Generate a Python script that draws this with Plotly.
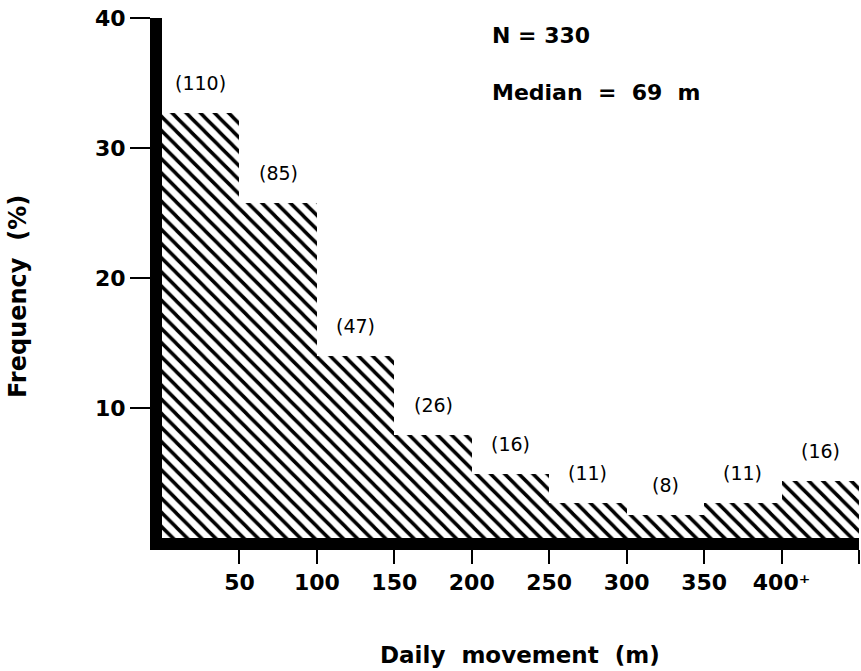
import plotly.graph_objects as go

# Data
bin_starts = [0, 50, 100, 150, 200, 250, 300, 350, 400]
bin_width = 50
frequency_pct = [32.7, 25.8, 14.0, 7.9, 4.9, 2.7, 1.8, 2.7, 4.4]
counts = [110, 85, 47, 26, 16, 11, 8, 11, 16]
x_tick_vals = [50, 100, 150, 200, 250, 300, 350, 400]
x_tick_text = ["50", "100", "150", "200", "250", "300", "350", "400\u207a"]
x_end_tick = [450]
y_tick_vals = [10, 20, 30, 40]
y_tick_text = ["10", "20", "30", "40"]
n_total = 330
median_m = 69

FONT = "DejaVu Sans"
L, R, T, B = 162, 2, 18, 133
W, H = 861, 671
PW, PH = W - L - R, H - T - B


def px(xp):
    return (xp - L) / PW


def py(yp):
    return (H - B - yp) / PH


fig = go.Figure()
fig.add_trace(go.Bar(
    x=bin_starts,
    y=frequency_pct,
    width=bin_width,
    offset=0,
    marker=dict(
        color="white",
        line=dict(width=0),
        pattern=dict(shape="\\", fgcolor="black", bgcolor="white",
                     fgopacity=1, size=10, solidity=0.35, fillmode="replace"),
    ),
    hoverinfo="skip",
    showlegend=False,
))

# count labels above bars
for s, f, c in zip(bin_starts, frequency_pct, counts):
    fig.add_annotation(
        x=s + bin_width / 2, y=f, xref="x", yref="y",
        text=f"({c})", showarrow=False, yanchor="middle", yshift=30,
        font=dict(family=FONT, size=19, color="black"),
    )

fig.add_annotation(
    x=px(490), y=py(35), xref="paper", yref="paper",
    text=f"N\u00a0=\u00a0{n_total}", showarrow=False, xanchor="left", yanchor="middle",
    font=dict(family=FONT, size=22, color="black", weight="bold"),
)
fig.add_annotation(
    x=px(490), y=py(92), xref="paper", yref="paper",
    text=f"Median\u00a0\u00a0=\u00a0\u00a0{median_m}\u00a0\u00a0m",
    showarrow=False, xanchor="left", yanchor="middle",
    font=dict(family=FONT, size=22, color="black", weight="bold"),
)
# axis titles
fig.add_annotation(
    x=px(520), y=py(655), xref="paper", yref="paper",
    text="Daily\u00a0\u00a0movement\u00a0\u00a0(m)", showarrow=False,
    xanchor="center", yanchor="middle",
    font=dict(family=FONT, size=23, color="black", weight="bold"),
)
fig.add_annotation(
    x=px(18), y=py(297), xref="paper", yref="paper",
    text="Frequency\u00a0\u00a0(%)", showarrow=False, textangle=-90,
    xanchor="center", yanchor="middle",
    font=dict(family=FONT, size=24, color="black", weight="bold"),
)

fig.update_layout(
    width=W, height=H,
    margin=dict(l=L, r=R, t=T, b=B),
    paper_bgcolor="white", plot_bgcolor="white",
    bargap=0,
    xaxis=dict(
        range=[0, 450],
        showgrid=False, zeroline=False,
        showline=True, linecolor="black", linewidth=12,
        ticks="outside", ticklen=14, tickwidth=2, tickcolor="black",
        tickvals=x_tick_vals, ticktext=x_tick_text,
        tickfont=dict(family=FONT, size=22, color="black", weight="bold"),
        minor=dict(tickvals=x_end_tick, ticks="outside", ticklen=14,
                   tickwidth=2, tickcolor="black", showgrid=False),
    ),
    yaxis=dict(
        range=[0, 40],
        showgrid=False, zeroline=False,
        showline=True, linecolor="black", linewidth=12,
        ticks="outside", ticklen=20, tickwidth=2, tickcolor="black",
        tickvals=y_tick_vals, ticktext=y_tick_text,
        tickfont=dict(family=FONT, size=22, color="black", weight="bold"),
    ),
)

fig.write_html("out.html")
